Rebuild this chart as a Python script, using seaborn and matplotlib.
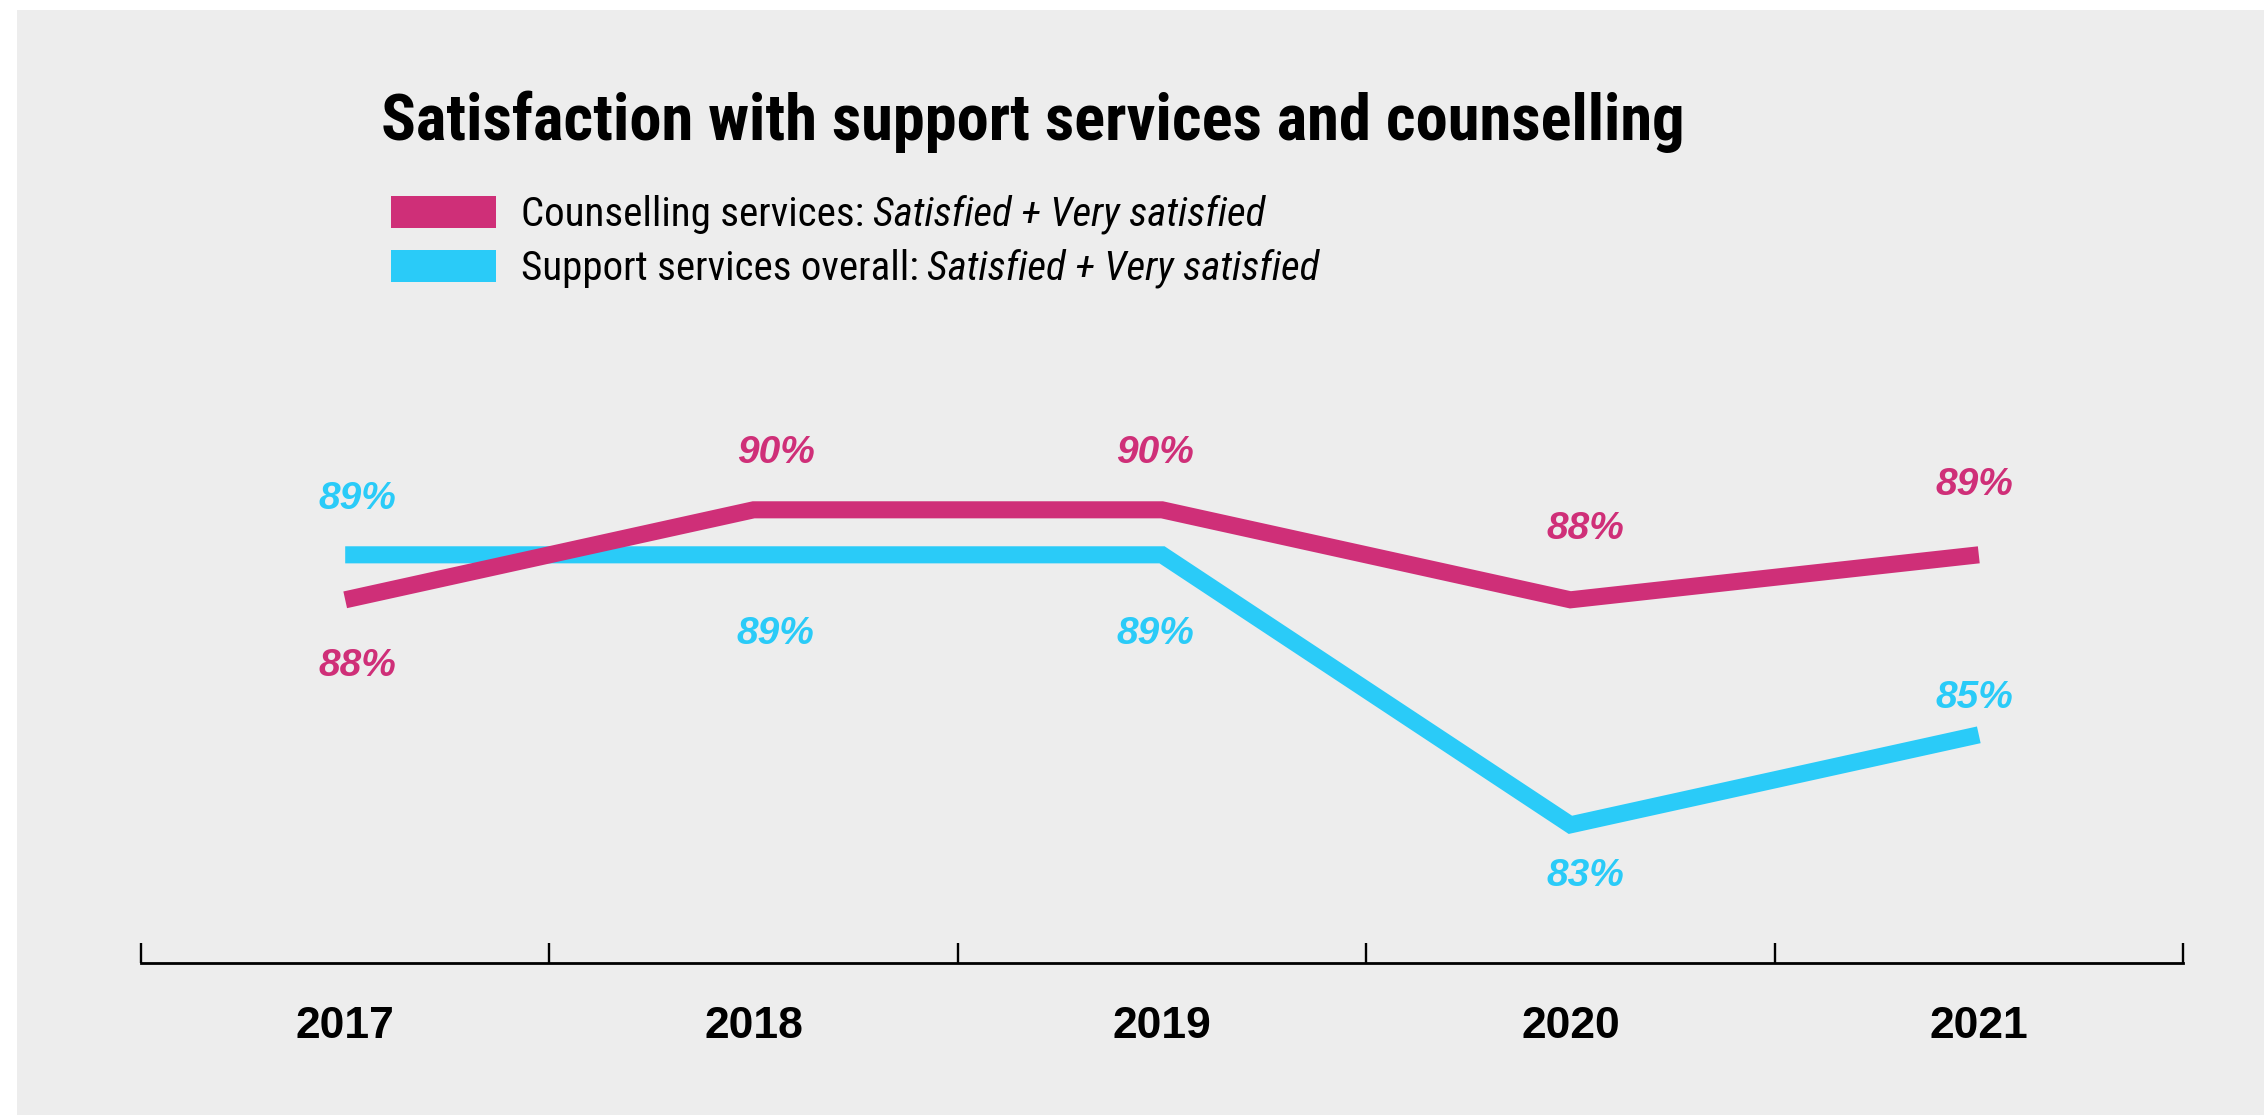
import numpy as np
import pandas as pd
import matplotlib
matplotlib.use("Agg")
import matplotlib.pyplot as plt
from matplotlib import font_manager
from matplotlib.patches import Rectangle
from matplotlib.ticker import FixedLocator
import seaborn as sns

# ---- data -------------------------------------------------------------
years = ["2017", "2018", "2019", "2020", "2021"]
counselling = [88, 90, 90, 88, 89]
support = [89, 89, 89, 83, 85]

series_names = ["Counselling services", "Support services overall"]
qualifier = "Satisfied + Very satisfied"
title = "Satisfaction with support services and counselling"

# ---- style ------------------------------------------------------------
PINK = "#CF2F78"
CYAN = "#2ACBF8"
PANEL = "#EDEDED"

# value-label offsets in points (dx per year, dy per series point)
label_dx = [9, 16, -5, 11, -3]
pink_dy = [-55, 34, 34, 44, 43]
cyan_dy = [33, -64, -64, -44, 19]


def first_font(*names):
    for n in names:
        try:
            font_manager.findfont(font_manager.FontProperties(family=n),
                                  fallback_to_default=False)
            return n
        except ValueError:
            continue
    return "DejaVu Sans"


SANS = first_font("Liberation Sans", "Arimo", "DejaVu Sans")
NARROW = first_font("Liberation Sans Narrow", "Roboto Condensed", "DejaVu Sans")

sns.set_theme(style="white")
plt.rcParams["font.family"] = [SANS, "DejaVu Sans"]

W, H = 2264, 1115
fig = plt.figure(figsize=(W / 100, H / 100), dpi=100, facecolor="white")

# grey panel behind everything
fig.add_artist(Rectangle((17 / W, 0), 1, 1 - 10 / H, transform=fig.transFigure,
                         facecolor=PANEL, edgecolor="none", zorder=-5))

ax = fig.add_axes([141 / W, (H - 963) / H, (2183 - 141) / W, (963 - 400) / H])
ax.set_facecolor("none")

df = pd.DataFrame({
    "year": years * 2,
    "value": support + counselling,
    "series": [series_names[1]] * len(years) + [series_names[0]] * len(years),
})

sns.lineplot(data=df, x="year", y="value", hue="series",
             hue_order=[series_names[1], series_names[0]],
             palette=[CYAN, PINK], linewidth=12.3, legend=False,
             estimator=None, sort=False, ax=ax,
             solid_capstyle="butt", solid_joinstyle="miter")

ax.set_xlim(-0.5, 4.5)
ax.set_ylim(79.93, 92.44)
ax.set_xlabel("")
ax.set_ylabel("")
ax.set_yticks([])
for side in ("top", "left", "right"):
    ax.spines[side].set_visible(False)
ax.spines["bottom"].set_linewidth(2.0)
ax.spines["bottom"].set_color("black")
ax.spines["bottom"].set_capstyle("projecting")

ax.set_xticks(range(len(years)))
ax.set_xticklabels(years)
ax.xaxis.set_minor_locator(FixedLocator(np.arange(-0.5, len(years), 1.0)))
ax.tick_params(axis="x", which="major", bottom=True, length=0, pad=31,
               labelsize=32, labelcolor="black")
ax.tick_params(axis="x", which="minor", bottom=True, direction="in",
               length=14.5, width=1.7, color="black")
for lbl in ax.get_xticklabels():
    lbl.set_fontweight("bold")
    lbl.set_family(SANS)

# value labels
for values, color, dys in ((counselling, PINK, pink_dy), (support, CYAN, cyan_dy)):
    for i, (yr, v) in enumerate(zip(years, values)):
        ax.annotate(f"{v}%", xy=(yr, v), xytext=(label_dx[i], dys[i]),
                    textcoords="offset points", ha="center", va="baseline",
                    fontsize=28, fontweight="bold", fontstyle="italic",
                    color=color, family=SANS, annotation_clip=False)

# title
fig.text(381 / W, 1 - 140 / H, title, fontsize=46.5, fontweight="bold",
         family=NARROW, ha="left", va="baseline", color="black")

# legend
rows = [(series_names[0], PINK, 196, 226), (series_names[1], CYAN, 250, 280)]
for name, color, top_px, base_px in rows:
    fig.add_artist(Rectangle((391 / W, 1 - (top_px + 32) / H), 105 / W, 32 / H,
                             transform=fig.transFigure, facecolor=color,
                             edgecolor="none"))
    t = fig.text(521 / W, 1 - base_px / H, name + ":", fontsize=29.5,
                 family=NARROW, ha="left", va="baseline", color="black")
    ax.annotate(qualifier, xy=(1, 0), xycoords=t, xytext=(6, 0),
                textcoords="offset points", ha="left", va="bottom",
                fontsize=29.5, fontstyle="italic", family=NARROW,
                color="black", annotation_clip=False)

fig.savefig("out.png", dpi=100, facecolor=fig.get_facecolor())
